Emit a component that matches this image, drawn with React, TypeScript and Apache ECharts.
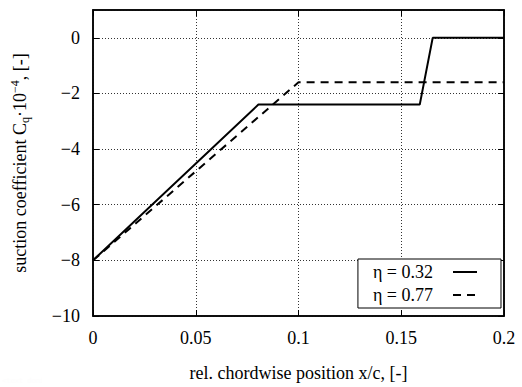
import React, { useEffect, useRef } from "react";
import * as echarts from "echarts";

const seriesNames = ["η = 0.32", "η = 0.77"];
const eta032: [number, number][] = [
  [0, -8],
  [0.0805, -2.4],
  [0.159, -2.4],
  [0.1653, 0],
  [0.2, 0],
];
const eta077: [number, number][] = [
  [0, -8],
  [0.1, -1.6],
  [0.2, -1.6],
];
const xTicks = [0, 0.05, 0.1, 0.15, 0.2];
const yTicks = [-10, -8, -6, -4, -2, 0];

const FONT = "Liberation Serif";

export default function App() {
  const ref = useRef<HTMLDivElement>(null);
  useEffect(() => {
    if (!ref.current) return;
    const chart = echarts.init(ref.current, undefined, { renderer: "svg" });
    const fmtX = (v: number) => (xTicks.some((t) => Math.abs(t - v) < 1e-9) ? String(+v.toFixed(2)) : "");
    const fmtY = (v: number) => (yTicks.includes(v) ? (v < 0 ? "\u2212" + Math.abs(v) : String(v)) : "");
    chart.setOption({
      animation: false,
      textStyle: { fontFamily: FONT },
      grid: { left: 93, right: 18, top: 10, bottom: 70, show: true, borderColor: "#000", borderWidth: 1.5 },
      legend: {
        orient: "vertical",
        right: 21,
        top: 259,
        align: "right",
        backgroundColor: "#fff",
        borderColor: "#000",
        borderWidth: 1,
        borderRadius: 0,
        padding: [4, 23, 4, 15],
        itemGap: 5,
        itemWidth: 24,
        itemHeight: 14,
        itemStyle: { opacity: 0 },
        textStyle: { fontFamily: FONT, fontSize: 18, color: "#000", padding: [0, 15, 0, 0] },
        data: seriesNames,
      },
      xAxis: [
        {
          type: "value",
          min: 0,
          max: 0.2,
          interval: 0.05,
          name: "rel. chordwise position x/c, [-]",
          nameLocation: "middle",
          nameGap: 48,
          nameTextStyle: { fontFamily: FONT, fontSize: 18, color: "#000" },
          axisLine: { show: true, onZero: false, lineStyle: { color: "#000", width: 1.5 } },
          axisTick: { show: true, inside: true, length: 6, lineStyle: { color: "#000", width: 1 } },
          axisLabel: { fontFamily: FONT, fontSize: 18, color: "#000", margin: 13, formatter: fmtX },
          splitLine: { show: true, lineStyle: { color: "#333", type: [1, 2], width: 1 } },
        },
        {
          type: "value",
          position: "top",
          min: 0,
          max: 0.2,
          interval: 0.05,
          axisLine: { show: true, onZero: false, lineStyle: { color: "#000", width: 1.5 } },
          axisTick: { show: true, inside: true, length: 6, lineStyle: { color: "#000", width: 1 } },
          axisLabel: { show: false },
          splitLine: { show: false },
        },
      ],
      yAxis: [
        {
          type: "value",
          min: -10,
          max: 1,
          interval: 2,
          name: "{n|suction coefficient C}{s|q}{n|\u00b710}{p|\u22124}{n|, [-]}",
          nameLocation: "middle",
          nameGap: 62,
          nameTextStyle: {
            fontFamily: FONT,
            fontSize: 18,
            color: "#000",
            rich: {
              n: { fontFamily: FONT, fontSize: 18, color: "#000", lineHeight: 22 },
              s: { fontFamily: FONT, fontSize: 12, color: "#000", lineHeight: 22, padding: [10, 0, 0, 0] },
              p: { fontFamily: FONT, fontSize: 12, color: "#000", lineHeight: 22, padding: [0, 0, 10, 0] },
            },
          },
          axisLine: { show: true, onZero: false, lineStyle: { color: "#000", width: 1.5 } },
          axisTick: { show: true, inside: true, length: 6, lineStyle: { color: "#000", width: 1 } },
          axisLabel: { fontFamily: FONT, fontSize: 18, color: "#000", margin: 13, showMaxLabel: false, formatter: fmtY },
          splitLine: { show: true, lineStyle: { color: "#333", type: [1, 2], width: 1 } },
        },
        {
          type: "value",
          position: "right",
          min: -10,
          max: 1,
          interval: 2,
          axisLine: { show: true, onZero: false, lineStyle: { color: "#000", width: 1.5 } },
          axisTick: { show: true, inside: true, length: 6, lineStyle: { color: "#000", width: 1 } },
          axisLabel: { show: false },
          splitLine: { show: false },
        },
      ],
      series: [
        {
          name: seriesNames[0],
          type: "line",
          data: eta032,
          symbol: "none",
          lineStyle: { color: "#000", width: 2, type: "solid" },
          itemStyle: { color: "#000" },
        },
        {
          name: seriesNames[1],
          type: "line",
          data: eta077,
          symbol: "none",
          lineStyle: { color: "#000", width: 2, type: [8, 6] },
          itemStyle: { color: "#000" },
        },
      ],
    });
    let d: HTMLDivElement | null = null;
    const timer = setTimeout(() => {
      const ts = ref.current ? Array.from(ref.current.querySelectorAll("text")) : [];
      d = document.createElement("div");
      d.textContent = ts.slice(0, 2).map((t) => t.outerHTML).join(" ").slice(0, 12);
      d.style.position = "absolute";
      d.style.top = "377px";
      d.style.left = "2px";
      d.style.width = "40px";
      d.style.height = "9px";
      d.style.overflow = "hidden";
      d.style.whiteSpace = "nowrap";
      d.style.fontSize = "7px";
      d.style.color = "#fdfdfd";
      d.style.fontFamily = "DejaVu Sans Mono";
      document.body.appendChild(d);
    }, 50);
    return () => {
      clearTimeout(timer);
      if (d && d.parentNode) d.parentNode.removeChild(d);
      chart.dispose();
    };
  }, []);
  return <div ref={ref} style={{ width: 522, height: 387, position: "absolute", left: 0, top: 0, background: "#fff" }} />;
}
